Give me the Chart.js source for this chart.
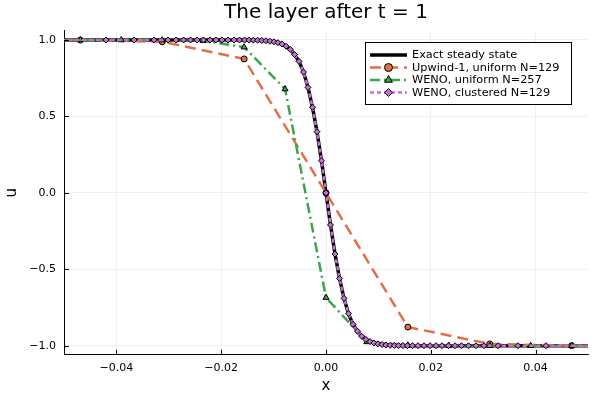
<!DOCTYPE html>
<html><head><meta charset="utf-8">
<script src="https://cdn.jsdelivr.net/npm/chart.js@4.4.0/dist/chart.umd.min.js"></script>
<style>html,body{margin:0;padding:0;background:#fff}#wrap{width:600px;height:400px}</style>
</head><body><div id="wrap"><canvas id="c" width="600" height="400"></canvas></div>
<script>
const titleText = "The layer after t = 1";
const xLabel = "x";
const yLabel = "u";
const xTicks = [-0.04, -0.02, 0, 0.02, 0.04];
const xTickLabels = ["\u22120.04", "\u22120.02", "0.00", "0.02", "0.04"];
const yTicks = [-1, -0.5, 0, 0.5, 1];
const yTickLabels = ["\u22121.0", "\u22120.5", "0.0", "0.5", "1.0"];
const seriesNames = ["Exact steady state", "Upwind-1, uniform N=129", "WENO, uniform N=257", "WENO, clustered N=129"];

const upwindX = [-0.0625, -0.046875, -0.03125, -0.015625, 0, 0.015625, 0.03125, 0.046875, 0.0625];
const upwindU = [1, 0.9995, 0.988, 0.876, 0, -0.878, -0.988, -0.9995, -1];

const wenoX = [-0.0625, -0.0546875, -0.046875, -0.0390625, -0.03125, -0.0234375, -0.015625, -0.0078125, 0,
  0.0078125, 0.015625, 0.0234375, 0.03125, 0.0390625, 0.046875, 0.0546875, 0.0625];
const wenoU = [1, 1, 1, 1, 0.999, 0.995, 0.953, 0.679, -0.685, -0.975, -0.997, -0.999, -1, -1, -1, -1, -1];

const clusteredX = [-0.05725, -0.04198, -0.03664, -0.03282, -0.03015, -0.02863, -0.02719, -0.02586, -0.02462,
  -0.02338, -0.02214, -0.02099, -0.01985, -0.0187, -0.01756, -0.01651, -0.01555, -0.01469, -0.01385, -0.01305,
  -0.01225, -0.01145, -0.01069, -0.00992, -0.00916, -0.0084, -0.00761, -0.00681, -0.00601, -0.00515, -0.00429,
  -0.00344, -0.00258, -0.00172, -0.00086, 0, 0.00086, 0.00172, 0.00258, 0.00344, 0.00429, 0.00515, 0.00601,
  0.00681, 0.00761, 0.0084, 0.00916, 0.00992, 0.01069, 0.01145, 0.01225, 0.01305, 0.01385, 0.01469, 0.01555,
  0.01651, 0.01756, 0.0187, 0.01985, 0.02099, 0.02214, 0.02338, 0.02462, 0.02586, 0.02719, 0.02863, 0.03015,
  0.03282, 0.03664, 0.04198, 0.05725];
const clusteredU = [1, 1, 1, 1, 1, 1, 1, 0.9999, 0.9999, 0.9999, 0.9998, 0.9998, 0.9998, 0.9997, 0.9997, 0.9996,
  0.9996, 0.9993, 0.999, 0.998, 0.997, 0.995, 0.992, 0.988, 0.982, 0.973, 0.959, 0.938, 0.905, 0.86, 0.79, 0.69,
  0.56, 0.40, 0.21, 0, -0.21, -0.40, -0.56, -0.69, -0.79, -0.86, -0.905, -0.938, -0.959, -0.973, -0.982, -0.988,
  -0.992, -0.995, -0.997, -0.998, -0.999, -0.9993, -0.9996, -0.9996, -0.9997, -0.9997, -0.9998, -0.9998, -0.9998,
  -0.9999, -0.9999, -0.9999, -1, -1, -1, -1, -1, -1, -1];

const exactX = clusteredX;
const exactU = clusteredU;

function pts(xs, ys) { return xs.map((x, i) => ({x: x, y: ys[i]})); }

const FONT = '"DejaVu Sans", sans-serif';

const deco = {
  id: 'deco',
  afterDraw(chart) {
    const ctx = chart.ctx, a = chart.chartArea, xs = chart.scales.x, ys = chart.scales.y;
    ctx.save();
    ctx.strokeStyle = '#000'; ctx.lineWidth = 1; ctx.setLineDash([]);
    xTicks.forEach(v => { const p = Math.round(xs.getPixelForValue(v)) + 0.5;
      ctx.beginPath(); ctx.moveTo(p, a.bottom); ctx.lineTo(p, a.bottom - 5); ctx.stroke(); });
    yTicks.forEach(v => { const p = Math.round(ys.getPixelForValue(v)) + 0.5;
      ctx.beginPath(); ctx.moveTo(a.left, p); ctx.lineTo(a.left + 5, p); ctx.stroke(); });
    ctx.fillStyle = '#000';
    ctx.font = '20px ' + FONT; ctx.textAlign = 'center'; ctx.textBaseline = 'alphabetic';
    ctx.fillText(titleText, (a.left + a.right) / 2, 17.5);
    ctx.font = '15px ' + FONT; ctx.textBaseline = 'middle';
    ctx.fillText(xLabel, (a.left + a.right) / 2, 386);
    ctx.save();
    ctx.translate(12, (a.top + a.bottom) / 2); ctx.rotate(-Math.PI / 2);
    ctx.fillText(yLabel, 0, 0);
    ctx.restore();
    // legend
    const bx = 365.5, by = 42.5, bw = 206, bh = 62;
    ctx.fillStyle = '#fff'; ctx.fillRect(bx, by, bw, bh);
    ctx.strokeStyle = '#000'; ctx.lineWidth = 1; ctx.strokeRect(bx, by, bw, bh);
    chart.data.datasets.forEach((ds, i) => {
      const y = 55 + i * 12.5;
      ctx.save();
      ctx.strokeStyle = ds.borderColor; ctx.lineWidth = ds.borderWidth;
      ctx.setLineDash(ds.borderDash || []);
      ctx.beginPath(); ctx.moveTo(370, y); ctx.lineTo(407, y); ctx.stroke();
      ctx.setLineDash([]);
      if (ds.pointRadius > 0) {
        ctx.fillStyle = ds.pointBackgroundColor; ctx.strokeStyle = '#000'; ctx.lineWidth = 1;
        Chart.helpers.drawPoint(ctx, {pointStyle: ds.pointStyle, radius: ds.pointRadius + 1, rotation: 0, borderWidth: 1}, 388.5, y);
      }
      ctx.restore();
      ctx.fillStyle = '#000'; ctx.font = '11.3px ' + FONT; ctx.textAlign = 'left'; ctx.textBaseline = 'middle';
      ctx.fillText(seriesNames[i], 412, y + 0.5);
    });
    ctx.restore();
  }
};

new Chart(document.getElementById('c'), {
  type: 'scatter',
  data: {
    datasets: [
      {label: seriesNames[0], data: pts(exactX, exactU), showLine: true, borderColor: '#000000', borderWidth: 3.5,
        pointRadius: 0, order: 4, clip: 0},
      {label: seriesNames[1], data: pts(upwindX, upwindU), showLine: true, borderColor: '#e26f46', borderWidth: 2.5,
        borderDash: [11, 6], pointStyle: 'circle', pointRadius: 3, pointBackgroundColor: '#e26f46',
        pointBorderColor: '#000', pointBorderWidth: 1, order: 3, clip: 0},
      {label: seriesNames[2], data: pts(wenoX, wenoU), showLine: true, borderColor: '#3da44d', borderWidth: 2.5,
        borderDash: [10, 4, 2, 4], pointStyle: 'triangle', pointRadius: 3.5, pointBackgroundColor: '#3da44d',
        pointBorderColor: '#000', pointBorderWidth: 1, order: 2, clip: 0},
      {label: seriesNames[3], data: pts(clusteredX, clusteredU), showLine: true, borderColor: '#c271d2', borderWidth: 2.5,
        borderDash: [4, 3], pointStyle: 'rectRot', pointRadius: 3, pointBackgroundColor: '#c271d2',
        pointBorderColor: '#000', pointBorderWidth: 1, order: 1, clip: 0}
    ]
  },
  options: {
    responsive: false, animation: false, devicePixelRatio: 1,
    layout: {padding: {top: 30.8, right: 12, bottom: 0, left: 0}},
    plugins: {legend: {display: false}, tooltip: {enabled: false}, title: {display: false}},
    elements: {line: {tension: 0}},
    scales: {
      x: {type: 'linear', min: -0.05, max: 0.05,
        afterBuildTicks: s => { s.ticks = xTicks.map(v => ({value: v})); },
        afterFit: s => { s.height = 45.1; },
        grid: {color: 'rgba(0,0,0,0.1)', lineWidth: 0.6, drawTicks: false},
        border: {display: true, color: '#000', width: 1},
        ticks: {padding: 7, color: '#000', font: {family: FONT, size: 11}, maxRotation: 0,
          callback: (v, i) => xTickLabels[i]}},
      y: {type: 'linear', min: -1.06, max: 1.06,
        afterBuildTicks: s => { s.ticks = yTicks.map(v => ({value: v})); },
        afterFit: s => { s.width = 64; },
        grid: {color: 'rgba(0,0,0,0.1)', lineWidth: 0.6, drawTicks: false},
        border: {display: true, color: '#000', width: 1},
        ticks: {padding: 8, color: '#000', font: {family: FONT, size: 11},
          callback: (v, i) => yTickLabels[i]}}
    }
  },
  plugins: [deco]
});
</script></body></html>
